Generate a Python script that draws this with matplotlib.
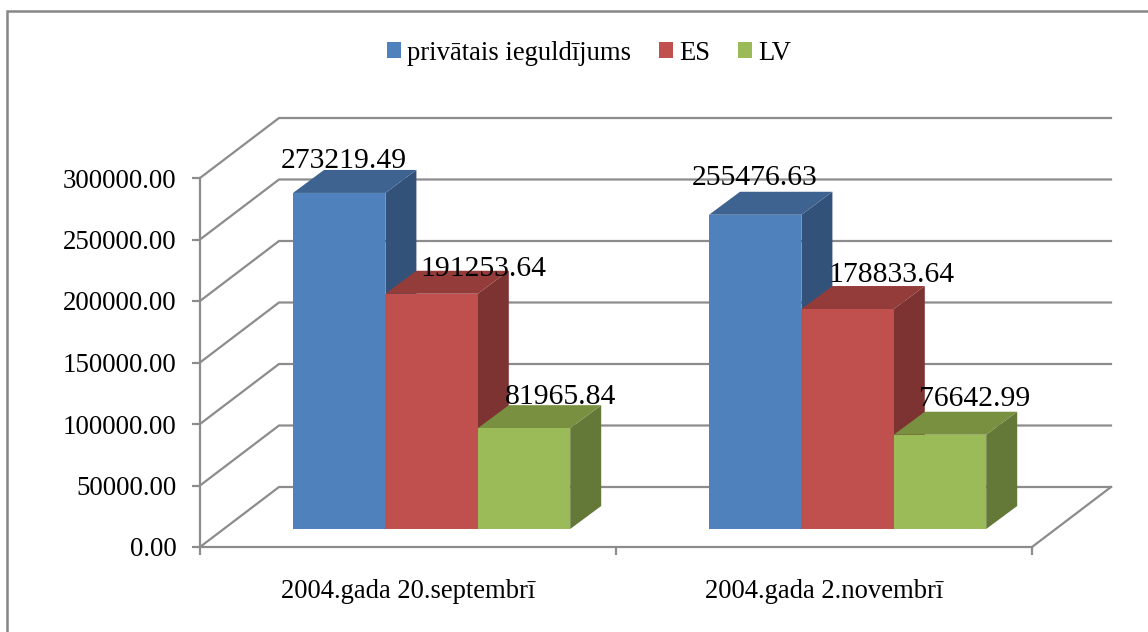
import matplotlib
matplotlib.use("Agg")
import matplotlib.pyplot as plt
from matplotlib.patches import Polygon, Patch, Rectangle

categories = ["2004.gada 20.septembrī", "2004.gada 2.novembrī"]
series_names = ["privātais ieguldījums", "ES", "LV"]
privatais = [273219.49, 255476.63]
es = [191253.64, 178833.64]
lv = [81965.84, 76642.99]
yticks = [0, 50000, 100000, 150000, 200000, 250000, 300000]

front_colors = ["#4f81bd", "#c0504d", "#9bbb59"]
top_colors = ["#3f6391", "#943c3a", "#78903f"]
side_colors = ["#33527a", "#7c3332", "#647838"]
GRID = "#8c8c8c"

W, H = 1148, 632
plt.rcParams["font.family"] = ["Liberation Serif", "DejaVu Serif"]
fig = plt.figure(figsize=(W / 100, H / 100), dpi=100)
fig.patches.append(Rectangle((7 / W, -0.05), 1.05, 1.05 - 11 / H, transform=fig.transFigure,
                             fill=False, ec="#868686", lw=1.8))
ax = fig.add_axes([200 / W, 1 - 547 / H, 832 / W, 369 / H])
ax.set_xlim(0, 2)
ax.set_ylim(0, 300000)
ax.patch.set_visible(False)
for s in ("top", "right"):
    ax.spines[s].set_visible(False)
for s in ("left", "bottom"):
    ax.spines[s].set_color(GRID)
    ax.spines[s].set_linewidth(1.6)

ppx = 2 / 832          # x units per pixel
ppy = 300000 / 369     # y units per pixel
wall_dx, wall_dy = 79 * ppx, 60 * ppy
bar_dx, bar_dy = 31 * ppx, 23 * ppy
bar_lift = 18 * ppy
bar_w = 92.4 * ppx
group_start = [93 * ppx, 509 * ppx]

ax.set_yticks(yticks, [f"{v:.2f}" for v in yticks], fontsize=19.4)
ax.set_xticks([0, 1, 2], [])
ax.set_xticks([0.5, 1.5], categories, minor=True, fontsize=19.2)
ax.tick_params(axis="y", length=6, width=1.6, color=GRID, pad=11)
ax.tick_params(axis="x", which="major", length=6, width=1.6, color=GRID)
ax.tick_params(axis="x", which="minor", length=0, pad=23)

# walls and floor
for v in yticks:
    ax.plot([0, wall_dx, 2 + wall_dx], [v, v + wall_dy, v + wall_dy], color=GRID, lw=1.6,
            clip_on=False, zorder=1, solid_joinstyle="miter")
ax.plot([2, 2 + wall_dx], [0, wall_dy], color=GRID, lw=1.6, clip_on=False, zorder=1)

# bars
label_offsets = [[(5, 32), (52, 25), (37, 31)], [(-1, 37), (44, 34), (35, 36)]]
z = 2
for g in range(len(categories)):
    for i, vals in enumerate([privatais, es, lv]):
        v = vals[g]
        x0 = group_start[g] + i * bar_w
        x1 = x0 + bar_w
        y0, y1 = bar_lift, bar_lift + v
        ax.add_patch(Polygon([(x1, y0), (x1 + bar_dx, y0 + bar_dy), (x1 + bar_dx, y1 + bar_dy), (x1, y1)],
                             fc=side_colors[i], ec="none", clip_on=False, zorder=z))
        ax.add_patch(Polygon([(x0, y1), (x1, y1), (x1 + bar_dx, y1 + bar_dy), (x0 + bar_dx, y1 + bar_dy)],
                             fc=top_colors[i], ec="none", clip_on=False, zorder=z))
        ax.add_patch(Rectangle((x0, y0), bar_w, v, fc=front_colors[i], ec="none", clip_on=False, zorder=z))
        z += 1

for g in range(len(categories)):
    for i, vals in enumerate([privatais, es, lv]):
        v = vals[g]
        dx, dy = label_offsets[g][i]
        ax.text(group_start[g] + (i + 0.5) * bar_w + dx * ppx, bar_lift + v + dy * ppy, f"{v:.2f}",
                ha="center", va="center", fontsize=21.3, color="black", zorder=50, clip_on=False)

handles = [Patch(fc=c, ec="none") for c in front_colors]
fig.legend(handles, series_names, loc="center", bbox_to_anchor=(589 / W, 1 - 53 / H), ncol=3, frameon=False,
           fontsize=19.2, handlelength=0.53, handleheight=0.53, handletextpad=0.22, columnspacing=1.05)

fig.savefig("out.png", dpi=100, facecolor="white")
